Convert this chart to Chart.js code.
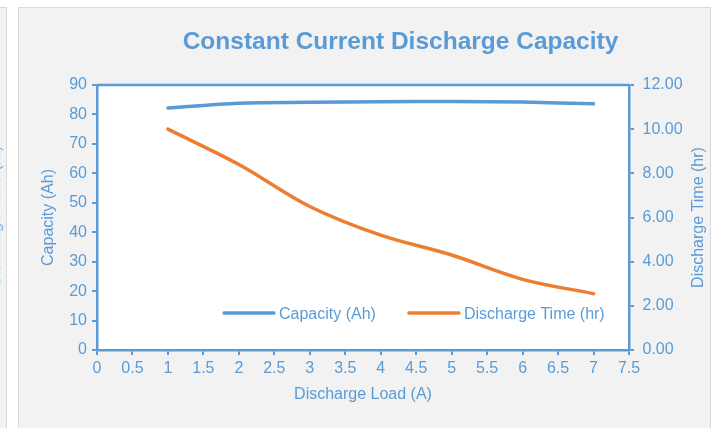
<!DOCTYPE html>
<html>
<head>
<meta charset="utf-8">
<script src="https://cdn.jsdelivr.net/npm/chart.js@4.4.1/dist/chart.umd.min.js"></script>
<style>
html,body{margin:0;padding:0;background:#ffffff;}
body{width:717px;height:428px;overflow:hidden;position:relative;font-family:'Liberation Sans',Arial,Helvetica,sans-serif;}
#prev{position:absolute;left:-20px;top:7px;width:25px;height:480px;background:#f2f2f2;border:1px solid #d9d9d9;overflow:hidden;}
#prevTitle{position:absolute;left:-86px;top:198px;width:200px;height:20px;line-height:20px;text-align:center;transform:rotate(-90deg);color:#7fb0de;font-size:16px;white-space:nowrap;}
#panel{position:absolute;left:18px;top:7px;width:691px;height:480px;background:#f2f2f2;border:1px solid #d9d9d9;}
#c{position:absolute;left:0;top:0;}
</style>
</head>
<body>
<div id="prev"><div id="prevTitle">Discharge Time (hr)</div></div>
<div id="panel"></div>
<canvas id="c" width="801" height="428"></canvas>
<script>
// ---- data ----
const chartTitle = 'Constant Current Discharge Capacity';
const xAxisTitle = 'Discharge Load (A)';
const leftAxisTitle = 'Capacity (Ah)';
const rightAxisTitle = 'Discharge Time (hr)';
const seriesNames = ['Capacity (Ah)', 'Discharge Time (hr)'];
const loads = [1, 2, 3, 4, 5, 6, 7];
const capacityAh = [82.2, 83.8, 84.1, 84.3, 84.4, 84.2, 83.6];
const dischargeHr = [10.0, 8.4, 6.5, 5.2, 4.3, 3.2, 2.55];
const xRange = [0, 7.5, 0.5];
const leftRange = [0, 90, 10];
const rightRange = [0, 12, 2];

// ---- style ----
const BLUE = '#5b9bd5';
const ORANGE = '#ed7d31';
const TEXT = '#5b9bd5';
const FAMILY = "'Liberation Sans', Arial, Helvetica, sans-serif";
Chart.defaults.font.family = FAMILY;
Chart.defaults.color = TEXT;

const plotFrame = {
  id: 'plotFrame',
  beforeDraw(chart) {
    const {ctx, chartArea: a} = chart;
    ctx.save();
    ctx.fillStyle = '#ffffff';
    ctx.fillRect(a.left, a.top, a.right - a.left, a.bottom - a.top);
    ctx.strokeStyle = BLUE;
    ctx.lineWidth = 2.5;
    ctx.beginPath();
    ctx.moveTo(a.left, a.top);
    ctx.lineTo(a.right, a.top);
    ctx.stroke();
    ctx.restore();
  }
};

const inlineLegend = {
  id: 'inlineLegend',
  afterDraw(chart, args, o) {
    const {ctx, chartArea: a} = chart;
    let x = a.left + o.offsetX;
    const y = a.bottom - o.offsetY;
    ctx.save();
    ctx.font = o.fontSize + 'px ' + FAMILY;
    ctx.textBaseline = 'middle';
    ctx.textAlign = 'left';
    chart.data.datasets.forEach(ds => {
      ctx.strokeStyle = ds.borderColor;
      ctx.lineWidth = ds.borderWidth;
      ctx.lineCap = 'round';
      ctx.beginPath();
      ctx.moveTo(x, y);
      ctx.lineTo(x + o.lineLength, y);
      ctx.stroke();
      x += o.lineLength + o.textGap;
      ctx.fillStyle = TEXT;
      ctx.fillText(ds.label, x, y + o.textDy);
      x += ctx.measureText(ds.label).width + o.itemGap;
    });
    ctx.restore();
  }
};

const rightTitle = {
  id: 'rightTitle',
  afterDraw(chart, args, o) {
    const {ctx, chartArea: a} = chart;
    ctx.save();
    ctx.translate(a.right + o.dx, (a.top + a.bottom) / 2);
    ctx.rotate(-Math.PI / 2);
    ctx.font = o.fontSize + 'px ' + FAMILY;
    ctx.fillStyle = TEXT;
    ctx.textAlign = 'center';
    ctx.textBaseline = 'middle';
    ctx.fillText(o.text, 0, 0);
    ctx.restore();
  }
};

function series(ys) { return loads.map((x, i) => ({x: x, y: ys[i]})); }

const axisGrid = {display: true, drawOnChartArea: false, drawTicks: true, tickLength: 5, color: BLUE, lineWidth: 2};
const axisBorder = {display: true, color: BLUE, width: 2.5};

new Chart(document.getElementById('c'), {
  type: 'line',
  data: {
    datasets: [
      {label: seriesNames[0], data: series(capacityAh), yAxisID: 'y', borderColor: BLUE, backgroundColor: BLUE,
       borderWidth: 3.5, pointRadius: 0, tension: 0.35, borderCapStyle: 'round', fill: false},
      {label: seriesNames[1], data: series(dischargeHr), yAxisID: 'y1', borderColor: ORANGE, backgroundColor: ORANGE,
       borderWidth: 3.5, pointRadius: 0, tension: 0.35, borderCapStyle: 'round', fill: false}
    ]
  },
  options: {
    responsive: false,
    animation: false,
    layout: {padding: 0},
    plugins: {
      legend: {display: false},
      tooltip: {enabled: false},
      title: {display: true, text: chartTitle, color: TEXT, font: {size: 24.5, weight: 'bold'},
              padding: {top: 27.6, bottom: 28}},
      inlineLegend: {offsetX: 127, offsetY: 37, lineLength: 50, textGap: 5, itemGap: 33, fontSize: 16, textDy: 1.5},
      rightTitle: {text: rightAxisTitle, dx: 70, fontSize: 16}
    },
    scales: {
      x: {
        type: 'linear', position: 'bottom', min: xRange[0], max: xRange[1],
        ticks: {stepSize: xRange[2], color: TEXT, font: {size: 16}, padding: 4, maxRotation: 0, autoSkip: false,
                callback: v => String(v)},
        grid: axisGrid, border: axisBorder,
        title: {display: true, text: xAxisTitle, color: TEXT, font: {size: 16}, padding: {top: 0, bottom: 23.4}},
        afterFit(s) { s.height = 78; }
      },
      y: {
        type: 'linear', position: 'left', min: leftRange[0], max: leftRange[1],
        ticks: {stepSize: leftRange[2], color: TEXT, font: {size: 16}, padding: 5},
        grid: axisGrid, border: axisBorder,
        title: {display: true, text: leftAxisTitle, color: TEXT, font: {size: 16}, padding: {top: 39.4, bottom: 0}},
        afterFit(s) { s.width = 97; }
      },
      y1: {
        type: 'linear', position: 'right', min: rightRange[0], max: rightRange[1],
        ticks: {stepSize: rightRange[2], color: TEXT, font: {size: 16}, padding: 8.5, callback: v => Number(v).toFixed(2)},
        grid: axisGrid, border: axisBorder,
        afterFit(s) { s.width = 801 - 629; }
      }
    }
  },
  plugins: [plotFrame, inlineLegend, rightTitle]
});
</script>
</body>
</html>
